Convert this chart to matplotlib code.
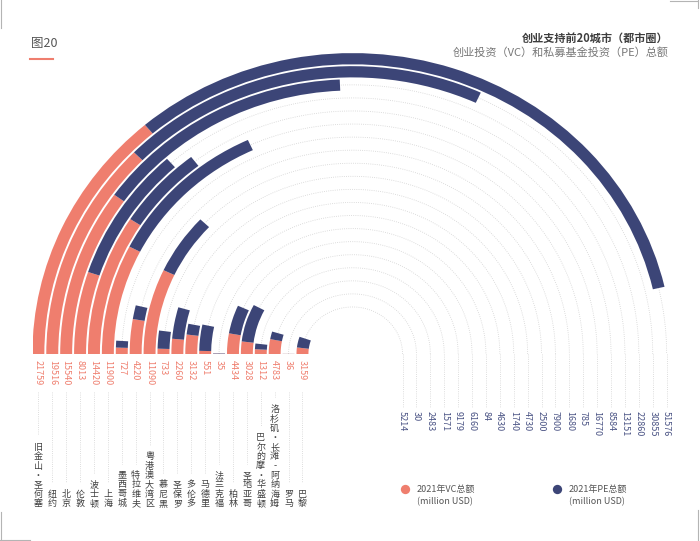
import numpy as np
import matplotlib.pyplot as plt
from matplotlib.patches import Rectangle

plt.rcParams['font.family'] = ['Noto Sans CJK SC', 'DejaVu Sans']

# 2021 totals, million USD -- outer ring first
cities = ['旧金山·圣何塞', '纽约', '北京', '伦敦', '波士顿', '上海', '墨西哥城',
          '特拉维夫', '粤港澳大湾区', '慕尼黑', '圣保罗', '多伦多', '马德里',
          '法兰克福', '柏林', '圣地亚哥', '巴尔的摩·华盛顿',
          '洛杉矶·长滩-阿纳海姆', '罗马', '巴黎']
vc = [21759, 19516, 15540, 8013, 14420, 11900, 727, 4220, 11090, 733,
      2260, 3132, 551, 35, 4434, 3028, 1312, 4783, 36, 3159]
pe = [51576, 30855, 22860, 13151, 8584, 16770, 785, 1680, 7900, 2500,
      4730, 1740, 4630, 84, 6160, 9179, 1571, 2483, 30, 5214]

VC_COLOR = '#ef7e6e'
PE_COLOR = '#3c4577'
PE_TEXT = '#4a5384'
GUIDE = '#d2d2d2'

MAX_TOTAL = 79000          # value that fills the half circle

W, H = 700, 541
cx, cy = 352.5, 354        # centre of the rings in pixels
sx = 13.9                  # pixels per ring horizontally
sy = sx * 0.94             # chart is slightly squashed vertically
RMAX = 23
bw = 0.86

n = len(cities)
radii = 3.6 + np.arange(n)[::-1]

fig = plt.figure(figsize=(7, 5.41), dpi=100)
rect = [(cx - RMAX * sx) / W, (H - cy - RMAX * sy) / H,
        2 * RMAX * sx / W, 2 * RMAX * sy / H]

# %% rings
ax = fig.add_axes(rect, projection='polar')
ax.set_aspect('auto')
ax.set_theta_zero_location('W')
ax.set_theta_direction(-1)

arc = np.linspace(0, np.pi, 400)
for r in radii:
    ax.plot(arc, np.full_like(arc, r), ls=(0, (1, 1.6)), lw=0.6,
            color=GUIDE, zorder=1)

scale = np.pi / MAX_TOTAL
vc_w = np.array(vc) * scale
pe_w = np.array(pe) * scale
bars_vc = ax.bar(0, bw, width=vc_w, bottom=radii - bw / 2, align='edge',
                 color=VC_COLOR, lw=0, zorder=2)
bars_pe = ax.bar(vc_w, bw, width=pe_w, bottom=radii - bw / 2,
                 align='edge', color=PE_COLOR, lw=0, zorder=2)
upper = Rectangle((0, 0.5), 1, 0.5, transform=ax.transAxes)
for b in list(bars_vc) + list(bars_pe):
    b.set_clip_path(upper)

ax.set_xlim(0, 2 * np.pi)
ax.set_ylim(0, RMAX)
ax.axis('off')

# %% labels under the baseline, same geometry as the rings
ov = fig.add_axes(rect)
ov.set_xlim(-RMAX, RMAX)
ov.set_ylim(-RMAX, RMAX)
ov.axis('off')


def yd(px):
    return (cy - px) / sy


for name, v, p, r in zip(cities, vc, pe, radii):
    ov.text(-r, yd(360), str(v), rotation=270, ha='center', va='top',
            fontsize=6.5, color=VC_COLOR)
    ov.text(r, yd(411), str(p), rotation=270, ha='center', va='top',
            fontsize=6.5, color=PE_TEXT)
    ov.text(-r, yd(508), '\n'.join(name), ha='center', va='bottom',
            fontsize=6.5, linespacing=1.05, color='#404040')
    top = 508 - len(name) * 9.5
    ov.plot([-r, -r], [yd(392), yd(top - 6)], ls=(0, (1, 1.6)), lw=0.6,
            color=GUIDE)
    ov.plot([r, r], [0, yd(407)], ls=(0, (1, 1.6)), lw=0.6, color=GUIDE)

# %% titles, legend, frame marks
deco = fig.add_axes([0, 0, 1, 1])
deco.set_xlim(0, W)
deco.set_ylim(H, 0)
deco.axis('off')

deco.text(31, 43, '图20', fontsize=9, color='#555555', va='center')
deco.plot([30, 53], [58.5, 58.5], color=VC_COLOR, lw=1.5)
deco.text(668, 38.5, '创业支持前20城市（都市圈）', fontsize=8, fontweight='bold',
          color='#3d3d3d', ha='right', va='center')
deco.text(669, 52.5, '创业投资（VC）和私募基金投资（PE）总额', fontsize=8,
          color='#777777', ha='right', va='center')

for x0, col, lab in [(405, VC_COLOR, '2021年VC总额'), (557, PE_COLOR, '2021年PE总额')]:
    deco.scatter([x0], [489], s=45, color=col, lw=0)
    deco.text(x0 + 12, 489, lab, fontsize=6.5, color='#555555', va='center')
    deco.text(x0 + 12, 501.5, '(million USD)', fontsize=6.5, color='#555555',
              va='center')

for xs, ys in [([1, 1], [0, 28]), ([1, 1], [512, 541]), ([0, 30], [540, 540]),
               ([698, 698], [0, 8]), ([670, 698], [0.5, 0.5]),
               ([698, 698], [510, 541])]:
    deco.plot(xs, ys, color='#b4b4b4', lw=0.8)

fig.savefig('out.png', dpi=100)
